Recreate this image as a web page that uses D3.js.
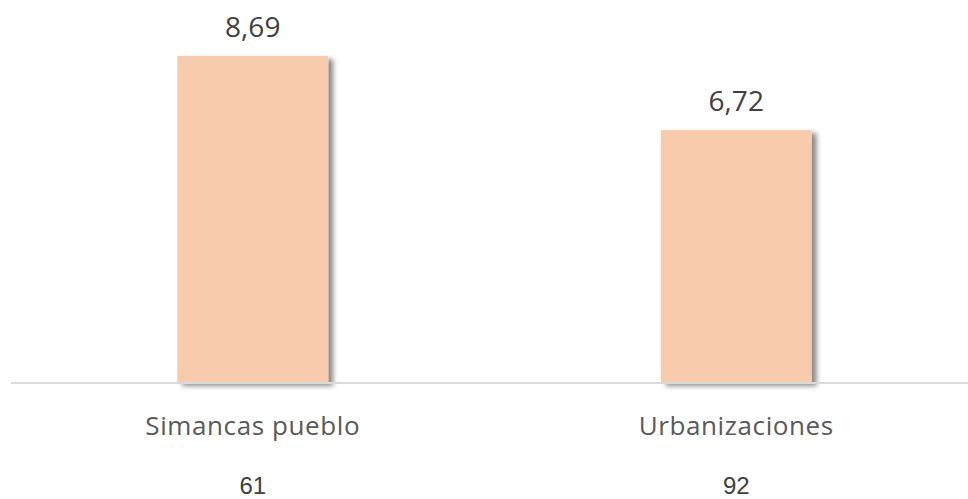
<!DOCTYPE html>
<html>
<head>
<meta charset="utf-8">
<script src="https://cdn.jsdelivr.net/npm/d3@7"></script>
<style>
  body { margin: 0; background: #fff; }
  svg { display: block; }
</style>
</head>
<body>
<svg id="chart"></svg>
<script>
// data
var categories = ['Simancas pueblo', 'Urbanizaciones']
var values = [8.69, 6.72]
var counts = ['61', '92']

var width = 968
var height = 499
var baseY = 383

var svg = d3.select('#chart').attr('width', width).attr('height', height)

var defs = svg.append('defs')
var f = defs.append('filter').attr('id', 'shadow')
  .attr('x', '-10%').attr('y', '-10%').attr('width', '130%').attr('height', '130%')
f.append('feDropShadow')
  .attr('dx', 5).attr('dy', 3)
  .attr('stdDeviation', 2.5)
  .attr('flood-color', '#000')
  .attr('flood-opacity', 0.45)

var x = d3.scaleBand()
  .domain(categories)
  .range([11, 978])
  .paddingInner(0.688)
  .paddingOuter(0.344)

var y = d3.scaleLinear()
  .domain([0, 8.69])
  .range([baseY, 56])

var data = categories.map((c, i) => ({ cat: c, value: values[i], count: counts[i] }))

// bars
svg.append('g')
  .selectAll('rect')
  .data(data)
  .enter()
  .append('rect')
  .attr('x', d => x(d.cat))
  .attr('y', d => y(d.value))
  .attr('width', x.bandwidth())
  .attr('height', d => y(0) - y(d.value))
  .attr('fill', '#f8cbad')
  .attr('filter', 'url(#shadow)')

// baseline axis
svg.append('line')
  .attr('x1', 11).attr('x2', width)
  .attr('y1', baseY).attr('y2', baseY)
  .attr('stroke', '#d9d9d9')
  .attr('stroke-width', 2)

// value labels
svg.append('g')
  .selectAll('text')
  .data(data)
  .enter()
  .append('text')
  .attr('x', d => x(d.cat) + x.bandwidth() / 2)
  .attr('y', d => y(d.value) - 19)
  .attr('text-anchor', 'middle')
  .attr('font-family', 'Open Sans, sans-serif')
  .attr('font-size', 28)
  .attr('fill', '#404040')
  .text(d => d3.format('.2f')(d.value).replace('.', ','))

// category labels
svg.append('g')
  .selectAll('text')
  .data(data)
  .enter()
  .append('text')
  .attr('x', d => x(d.cat) + x.bandwidth() / 2)
  .attr('y', 435)
  .attr('text-anchor', 'middle')
  .attr('font-family', 'Open Sans, sans-serif')
  .attr('font-size', 26)
  .attr('letter-spacing', 0.6)
  .attr('fill', '#595959')
  .text(d => d.cat)

// counts under the categories
svg.append('g')
  .selectAll('text')
  .data(data)
  .enter()
  .append('text')
  .attr('x', d => x(d.cat) + x.bandwidth() / 2)
  .attr('y', 494)
  .attr('text-anchor', 'middle')
  .attr('font-family', 'Liberation Sans, Arial, sans-serif')
  .attr('font-size', 24)
  .attr('fill', '#404040')
  .text(d => d.count)
</script>
</body>
</html>
